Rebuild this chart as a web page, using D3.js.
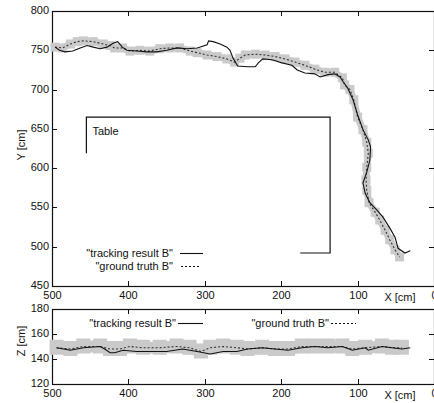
<!DOCTYPE html>
<html><head><meta charset="utf-8">
<script src="https://cdn.jsdelivr.net/npm/d3@7"></script>
<style>
body{margin:0;background:#fff;}
text{font-family:"Liberation Sans",Arial,sans-serif;font-size:11px;fill:#111;}
</style></head>
<body><svg id="c" width="434" height="403"></svg>
<script>
// ---- data ----
const xTicks = [500, 400, 300, 200, 100, 0];
const yTicks = [450, 500, 550, 600, 650, 700, 750, 800];
const zTicks = [120, 140, 160, 180];

// top plot (X,Y) tracking result B
const trackX = [496,490,483,473,463,454,446,437,428,420,414,408,402,389,376,363,350,336,323,310,297,295,289,280,271,267,263,257,244,234,230,224,212,199,186,179,169,156,149,139,130,123,119,113,106,100,93,86,83,84,88,93,90,84,75,67,58,51,47,38,31];
const trackY = [754,750,748,749,753,756,754,752,754,759,761,754,750,749,748,748,750,753,752,753,757,762,761,758,754,750,740,730,729,729,734,739,738,734,731,725,721,720,716,719,720,716,710,702,687,668,649,636,627,610,595,581,568,556,547,538,524,512,498,492,495,492];
// top plot ground truth B
const gtX = [496,486,476,467,459,446,433,424,418,408,398,385,372,359,346,333,319,310,297,284,271,261,254,247,234,221,208,195,182,169,156,143,130,120,117,110,105,100,93,88,86,88,89,88,85,77,71,64,58,51,45];
const gtY = [754,753,758,761,762,761,758,756,753,753,749,750,749,752,753,753,749,747,744,742,739,735,740,744,745,744,742,739,735,731,726,722,722,715,706,700,687,665,649,633,619,601,585,572,556,544,534,521,509,496,487];

// bottom plot (X,Z) tracking result B
const trackZX = [494,476,459,437,431,424,418,407,389,372,350,329,310,293,276,258,244,225,208,191,173,156,139,120,107,90,86,68,55,42,31];
const trackZ  = [149,147,149,150,148,145,145,147,146,146,146,148,146,144,146,146,148,149,148,147,149,150,149,150,147,149,147,150,149,148,149];
// bottom plot ground truth B
const gtZX = [494,476,459,437,424,411,398,381,359,337,320,305,293,276,258,244,225,208,191,173,156,139,120,107,90,68,55,42];
const gtZ  = [149,148,150,150,148,148,150,149,149,150,149,146,149,150,149,148,149,148,148,150,150,150,150,148,149,150,149,149];

// table outline (X,Y)
const tableX = [455, 455, 136, 136, 175];
const tableY = [619, 665, 665, 492, 492];

// ---- drawing ----
const svg = d3.select("#c");
const L = 52, R = 434;
const x = d3.scaleLinear().domain([500, 0]).range([L, R]);
const y = d3.scaleLinear().domain([450, 800]).range([286, 11]);
const z = d3.scaleLinear().domain([120, 180]).range([384, 309]);

function frame(ys, yt, top, bot) {
  const g = svg.append("g");
  g.append("rect").attr("x", L + 0.5).attr("y", top + 0.5).attr("width", R - L).attr("height", bot - top)
    .attr("fill", "none").attr("stroke", "#111").attr("stroke-width", 1.2);
  yt.forEach(v => {
    const py = Math.round(ys(v)) + 0.5;
    if (v !== ys.domain()[0] && v !== ys.domain()[1]) {
      g.append("line").attr("x1", L).attr("x2", L + 5).attr("y1", py).attr("y2", py).attr("stroke", "#111");
      g.append("line").attr("x1", R - 5).attr("x2", R).attr("y1", py).attr("y2", py).attr("stroke", "#111");
    }
    g.append("text").attr("x", L - 3).attr("y", py - 1).attr("dy", "0.35em").attr("text-anchor", "end").text(v);
  });
  xTicks.forEach(v => {
    const px = Math.round(x(v)) + 0.5;
    if (v !== 500 && v !== 0) {
      g.append("line").attr("x1", px).attr("x2", px).attr("y1", bot).attr("y2", bot - 5).attr("stroke", "#111");
      g.append("line").attr("x1", px).attr("x2", px).attr("y1", top).attr("y2", top + 5).attr("stroke", "#111");
    }
    g.append("text").attr("x", px).attr("y", bot + 13).attr("text-anchor", "middle").text(v);
  });
  g.append("text").attr("x", 400).attr("y", bot + 15).attr("text-anchor", "middle").text("X [cm]");
}

frame(y, yTicks, 11, 286);
frame(z, zTicks, 309, 384);

svg.append("text").attr("transform", "translate(25,145) rotate(-90)").attr("text-anchor", "middle").text("Y [cm]");
svg.append("text").attr("transform", "translate(25,341) rotate(-90)").attr("text-anchor", "middle").text("Z [cm]");

// table
const tablePts = tableX.map((v, i) => [x(v), y(tableY[i])]);
svg.append("path").attr("d", d3.line()(tablePts)).attr("fill", "none").attr("stroke", "#111").attr("stroke-width", 1.2);
svg.append("text").attr("x", x(455) + 6).attr("y", y(665) + 18).text("Table");

const line = d3.line().curve(d3.curveLinear);

// top plot
const gtPts = gtX.map((v, i) => [x(v), y(gtY[i])]);
const trPts = trackX.map((v, i) => [x(v), y(trackY[i])]);
svg.append("path").attr("d", line(gtPts)).attr("fill", "none").attr("stroke", "#cacaca").attr("stroke-width", 7);
svg.append("g").selectAll("rect").data(gtPts).join("rect")
  .attr("x", d => d[0] - 4.5).attr("y", d => d[1] - 4.5).attr("width", 9).attr("height", 9).attr("fill", "#cacaca");
svg.append("path").attr("d", line(gtPts)).attr("fill", "none").attr("stroke", "#333").attr("stroke-width", 1.1).attr("stroke-dasharray", "2,2");
svg.append("path").attr("d", line(trPts)).attr("fill", "none").attr("stroke", "#111").attr("stroke-width", 1.1);

// bottom plot
const gtZPts = gtZX.map((v, i) => [x(v), z(gtZ[i])]);
const trZPts = trackZX.map((v, i) => [x(v), z(trackZ[i])]);
svg.append("path").attr("d", line(gtZPts)).attr("fill", "none").attr("stroke", "#cacaca").attr("stroke-width", 12);
svg.append("g").selectAll("rect").data(gtZPts).join("rect")
  .attr("x", d => d[0] - 7).attr("y", d => d[1] - 8).attr("width", 14).attr("height", 15).attr("fill", "#cacaca");
svg.append("path").attr("d", line(gtZPts)).attr("fill", "none").attr("stroke", "#333").attr("stroke-width", 1.1).attr("stroke-dasharray", "2,2");
svg.append("path").attr("d", line(trZPts)).attr("fill", "none").attr("stroke", "#111").attr("stroke-width", 1.1);

// legends
function legendItem(tx, ty, anchor, lx1, lx2, label, dashed) {
  svg.append("text").attr("x", tx).attr("y", ty).attr("dy", "0.35em").attr("text-anchor", anchor).text(label);
  svg.append("line").attr("x1", lx1).attr("x2", lx2).attr("y1", ty + 0.5).attr("y2", ty + 0.5)
    .attr("stroke", "#111").attr("stroke-width", 1.1).attr("stroke-dasharray", dashed ? "2,2" : null);
}
legendItem(173, 253, "end", 180, 203, "\"tracking result B\"", false);
legendItem(173, 266, "end", 181, 200, "\"ground truth B\"", true);
legendItem(176, 323, "end", 178, 203, "\"tracking result B\"", false);
legendItem(329, 323, "end", 331, 356, "\"ground truth B\"", true);
</script>
</body></html>
